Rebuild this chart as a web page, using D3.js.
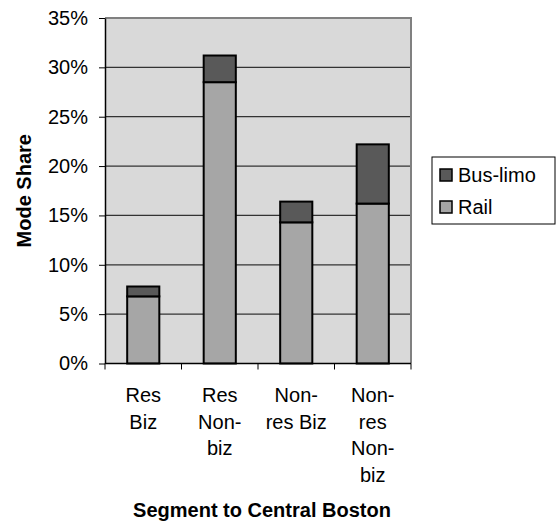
<!DOCTYPE html>
<html>
    <head>
        <meta charset="utf-8">
        <script src="https://d3js.org/d3.v7.min.js"></script>
        <style>
            body { margin: 0; background: #ffffff; }
            #chart .font { font-family: "Liberation Sans", Arial, sans-serif; fill: #000000; }
            #chart .tick-label { font-size: 20px; }
            #chart .axis-title { font-size: 20px; font-weight: bold; }
            #chart .legend-text { font-size: 20px; }
        </style>
    </head>
    <body>
        <script>
            const SVG_WIDTH = 556;
            const SVG_HEIGHT = 525;
            const PLOT_LEFT = 105;
            const PLOT_RIGHT = 411;
            const PLOT_TOP = 18;
            const PLOT_BOTTOM = 363.5;

            // data
            const CATEGORIES = ["Res Biz", "Res Nonbiz", "Non-res Biz", "Non-res Nonbiz"];
            const CATEGORY_LINES = [
                ["Res", "Biz"],
                ["Res", "Non-", "biz"],
                ["Non-", "res Biz"],
                ["Non-", "res", "Non-", "biz"]
            ];
            const RAIL = [0.068, 0.285, 0.143, 0.162];
            const BUS_LIMO = [0.010, 0.027, 0.021, 0.060];
            const Y_TICKS = [0, 0.05, 0.10, 0.15, 0.20, 0.25, 0.30, 0.35];
            const SERIES_NAMES = ["Bus-limo", "Rail"];
            const SERIES_COLORS = {"Rail": "#a6a6a6", "Bus-limo": "#595959"};

            var rows = CATEGORIES.map(function(c, i) {
                return {category: c, Rail: RAIL[i], "Bus-limo": BUS_LIMO[i]};
            });
            var stacked = d3.stack().keys(["Rail", "Bus-limo"])(rows);

            var svg = d3.select("body")
                .append("svg")
                .attr("id", "chart")
                .attr("width", SVG_WIDTH)
                .attr("height", SVG_HEIGHT);

            var xScale = d3.scaleBand()
                .domain(CATEGORIES)
                .range([PLOT_LEFT, PLOT_RIGHT])
                .padding(0);
            var yScale = d3.scaleLinear()
                .domain([0, 0.35])
                .range([PLOT_BOTTOM, PLOT_TOP]);

            // plot background
            svg.append("rect")
                .attr("x", PLOT_LEFT)
                .attr("y", PLOT_TOP)
                .attr("width", PLOT_RIGHT - PLOT_LEFT)
                .attr("height", PLOT_BOTTOM - PLOT_TOP)
                .attr("fill", "#d9d9d9");

            // gridlines
            svg.selectAll(".grid")
                .data(Y_TICKS.filter(function(d) { return d > 0; }))
                .enter()
                .append("line")
                .attr("x1", PLOT_LEFT)
                .attr("x2", PLOT_RIGHT)
                .attr("y1", function(d) { return yScale(d); })
                .attr("y2", function(d) { return yScale(d); })
                .attr("stroke", "#333333")
                .attr("stroke-width", 1.3);

            // top and right border
            svg.append("path")
                .attr("d", "M" + PLOT_LEFT + "," + PLOT_TOP + "H" + PLOT_RIGHT + "V" + PLOT_BOTTOM)
                .attr("fill", "none")
                .attr("stroke", "#808080")
                .attr("stroke-width", 2);

            // bars
            var barWidth = xScale.bandwidth() * 0.42;
            svg.selectAll(".series")
                .data(stacked)
                .enter()
                .append("g")
                .attr("fill", function(d) { return SERIES_COLORS[d.key]; })
                .selectAll("rect")
                .data(function(d) { return d; })
                .enter()
                .append("rect")
                .attr("x", function(d) { return xScale(d.data.category) + (xScale.bandwidth() - barWidth) / 2; })
                .attr("y", function(d) { return yScale(d[1]); })
                .attr("width", barWidth)
                .attr("height", function(d) { return yScale(d[0]) - yScale(d[1]); })
                .attr("stroke", "#000000")
                .attr("stroke-width", 2);

            // y axis
            var yAxis = d3.axisLeft(yScale)
                .tickValues(Y_TICKS)
                .tickSize(6)
                .tickSizeOuter(0)
                .tickPadding(11)
                .tickFormat(d3.format(".0%"));
            var yAxisGroup = svg.append("g")
                .attr("transform", "translate(" + PLOT_LEFT + ",0)")
                .call(yAxis);
            yAxisGroup.attr("font-family", null).attr("font-size", null);
            yAxisGroup.select(".domain").attr("stroke", "#000000").attr("stroke-width", 1.5);
            yAxisGroup.selectAll("line").attr("stroke", "#000000");
            yAxisGroup.selectAll("text").attr("class", "font tick-label");

            // x axis (ticks at band edges)
            var xAxisGroup = svg.append("g")
                .attr("transform", "translate(0," + PLOT_BOTTOM + ")");
            xAxisGroup.append("line")
                .attr("x1", PLOT_LEFT)
                .attr("x2", PLOT_RIGHT)
                .attr("stroke", "#000000")
                .attr("stroke-width", 1.5);
            var edges = CATEGORIES.map(function(c) { return xScale(c); }).concat([PLOT_RIGHT]);
            xAxisGroup.selectAll(".xtick")
                .data(edges)
                .enter()
                .append("line")
                .attr("x1", function(d) { return d; })
                .attr("x2", function(d) { return d; })
                .attr("y1", 0)
                .attr("y2", 6)
                .attr("stroke", "#000000");

            // category labels
            var catLabels = svg.selectAll(".cat")
                .data(CATEGORIES)
                .enter()
                .append("text")
                .attr("class", "font tick-label")
                .attr("text-anchor", "middle");
            catLabels.each(function(c, i) {
                var t = d3.select(this);
                CATEGORY_LINES[i].forEach(function(line, j) {
                    t.append("tspan")
                        .attr("x", xScale(c) + xScale.bandwidth() / 2)
                        .attr("y", 402 + j * 26.6)
                        .text(line);
                });
            });

            // axis titles
            svg.append("text")
                .attr("class", "font axis-title")
                .attr("text-anchor", "middle")
                .attr("x", 262)
                .attr("y", 517)
                .text("Segment to Central Boston");
            svg.append("text")
                .attr("class", "font axis-title")
                .attr("text-anchor", "middle")
                .attr("transform", "translate(31," + ((PLOT_TOP + PLOT_BOTTOM) / 2) + ") rotate(-90)")
                .text("Mode Share");

            // legend
            var legend = svg.append("g").attr("transform", "translate(432,157)");
            legend.append("rect")
                .attr("x", 0)
                .attr("y", 0)
                .attr("width", 123)
                .attr("height", 67)
                .attr("fill", "#ffffff")
                .attr("stroke", "#000000")
                .attr("stroke-width", 1);
            var items = legend.selectAll(".item")
                .data(SERIES_NAMES)
                .enter()
                .append("g")
                .attr("transform", function(d, i) { return "translate(8," + (18 + i * 32) + ")"; });
            items.append("rect")
                .attr("x", 0)
                .attr("y", -6)
                .attr("width", 12)
                .attr("height", 12)
                .attr("fill", function(d) { return SERIES_COLORS[d]; })
                .attr("stroke", "#000000")
                .attr("stroke-width", 1.5);
            items.append("text")
                .attr("class", "font legend-text")
                .attr("x", 18)
                .attr("y", 7)
                .text(function(d) { return d; });
        </script>
    </body>
</html>
